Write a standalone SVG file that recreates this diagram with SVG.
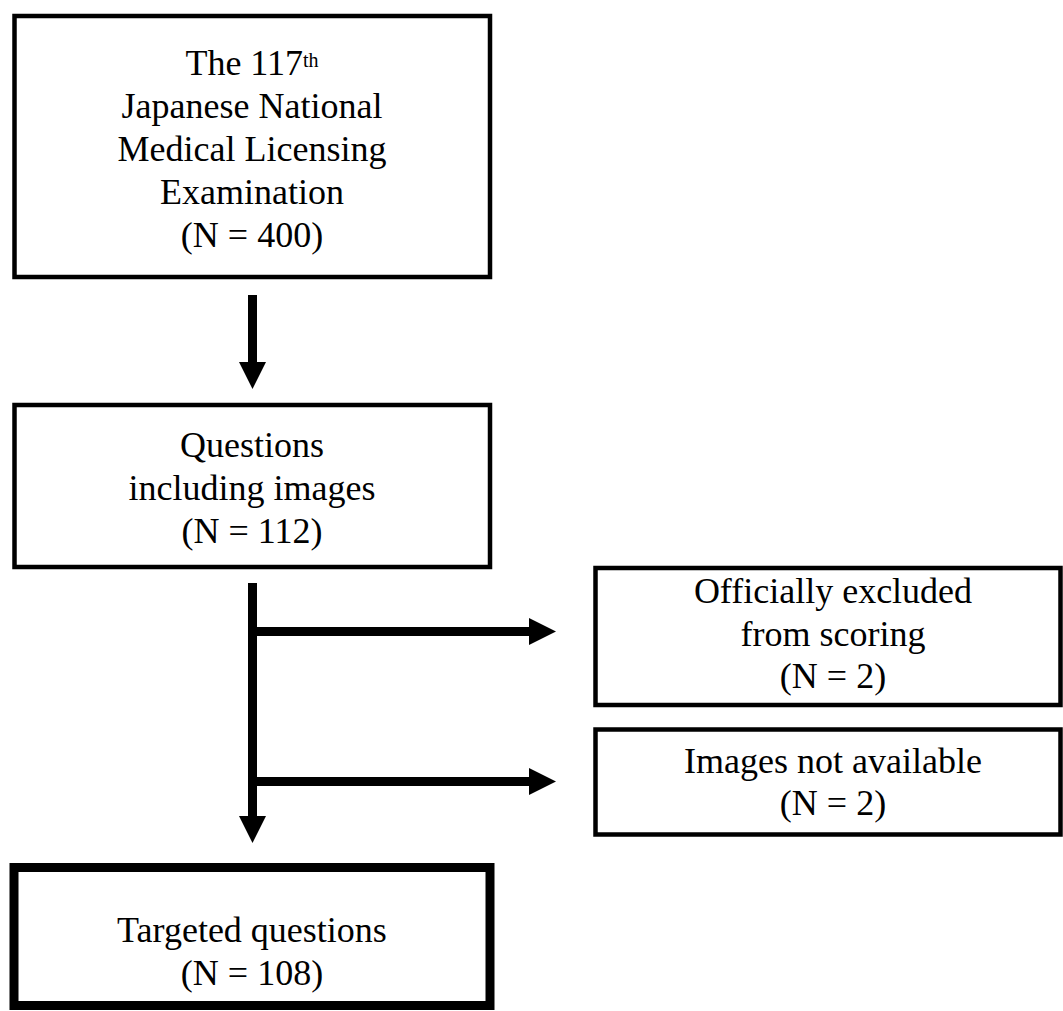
<svg xmlns="http://www.w3.org/2000/svg" width="1063" height="1011" viewBox="0 0 1063 1011">
<style>
.box{fill:#fff;stroke:#000;stroke-width:4.5}
.box-thick{fill:#fff;stroke:#000;stroke-width:9}
.lbl{font-family:"Liberation Serif","Times New Roman",serif;font-size:36px;fill:#000;text-anchor:middle}
.sup{font-size:20px}
.conn{stroke:#000;stroke-width:9;fill:none}
</style>
<defs>
<marker id="ah" markerUnits="userSpaceOnUse" markerWidth="27" markerHeight="27" refX="0" refY="13.5" orient="auto">
<path d="M0,0 L27,13.5 L0,27 z" fill="#000"/>
</marker>
</defs>
<rect width="1063" height="1011" fill="#fff"/>
<g id="connectors">
<line class="conn" x1="252.5" y1="295" x2="252.5" y2="362" marker-end="url(#ah)"/>
<line class="conn" x1="252.5" y1="583" x2="252.5" y2="816" marker-end="url(#ah)"/>
<line class="conn" x1="252.5" y1="631.5" x2="529" y2="631.5" marker-end="url(#ah)"/>
<line class="conn" x1="252.5" y1="781.5" x2="529" y2="781.5" marker-end="url(#ah)"/>
</g>
<g id="node-exam">
<rect class="box" x="14.5" y="16" width="475.5" height="261"/>
<text class="lbl" x="252" y="75">The 117<tspan class="sup" dy="-8">th</tspan></text>
<text class="lbl" x="252" y="118">Japanese National</text>
<text class="lbl" x="252" y="161">Medical Licensing</text>
<text class="lbl" x="252" y="204">Examination</text>
<text class="lbl" x="252" y="247">(N = 400)</text>
</g>
<g id="node-images">
<rect class="box" x="14.5" y="405" width="475.5" height="162"/>
<text class="lbl" x="252" y="457">Questions</text>
<text class="lbl" x="252" y="500">including images</text>
<text class="lbl" x="252" y="543">(N = 112)</text>
</g>
<g id="node-excluded">
<rect class="box" x="595.5" y="568" width="465" height="137"/>
<text class="lbl" x="833" y="603">Officially excluded</text>
<text class="lbl" x="833" y="646">from scoring</text>
<text class="lbl" x="833" y="688">(N = 2)</text>
</g>
<g id="node-notavailable">
<rect class="box" x="595.5" y="729.5" width="465" height="105"/>
<text class="lbl" x="833" y="773">Images not available</text>
<text class="lbl" x="833" y="815">(N = 2)</text>
</g>
<g id="node-targeted">
<rect class="box-thick" x="14" y="867.5" width="476" height="138"/>
<text class="lbl" x="252" y="942">Targeted questions</text>
<text class="lbl" x="252" y="985">(N = 108)</text>
</g>
</svg>
